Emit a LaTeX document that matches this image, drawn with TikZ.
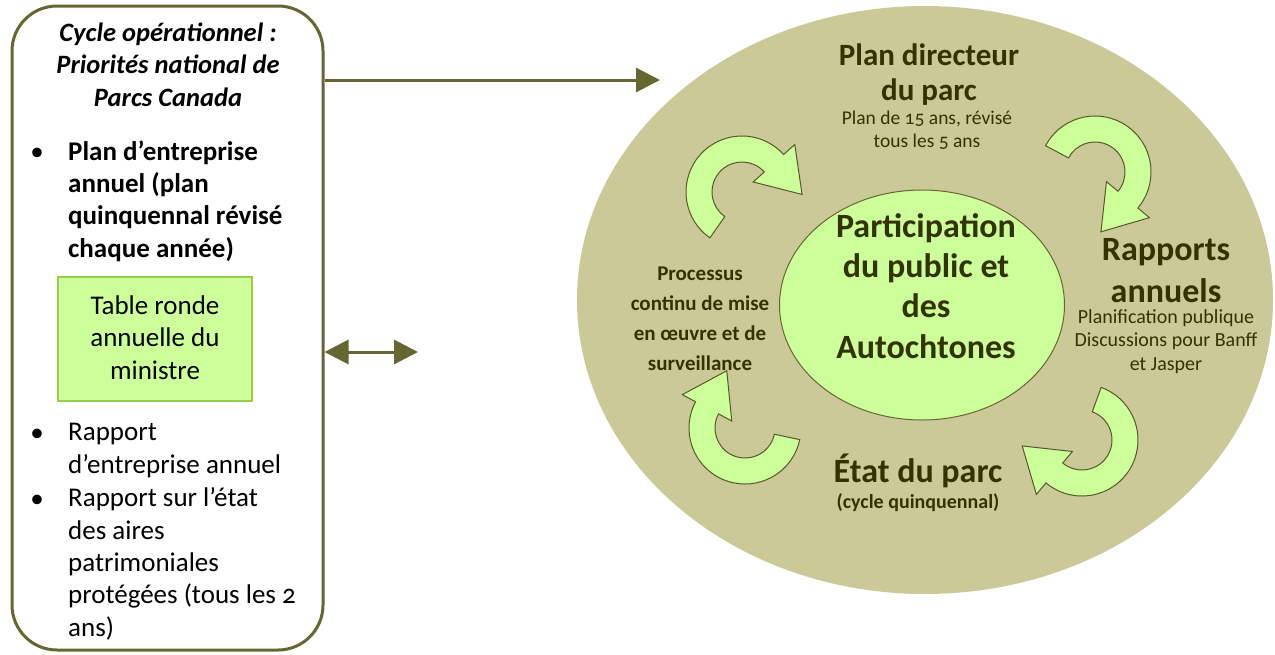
\documentclass[tikz,border=0pt]{standalone}
\usepackage{fontspec}
\setmainfont{Carlito}[Numbers=OldStyle]
\usetikzlibrary{arrows.meta,shapes.geometric}
\definecolor{olive}{HTML}{666633}
\definecolor{khaki}{HTML}{CCC999}
\definecolor{lgreen}{HTML}{CCFF99}
\definecolor{gborder}{HTML}{9ACD4A}
\definecolor{dtext}{HTML}{333300}
\tikzset{
  tb/.style={inner sep=0pt, anchor=base, align=center, text=dtext},
  lt/.style={inner sep=0pt, anchor=base west, align=left, text=black},
  carrow/.style={fill=lgreen, draw=olive!85!black, line width=1pt, line join=miter},
  conn/.style={draw=olive, line width=3pt, -{Triangle[length=24pt,width=24pt]}},
}
\newcommand{\circarrow}[4]{%
  \begin{scope}[shift={(#1,#2)}]
    \draw[carrow] (#3:56) arc[start angle=#3, end angle=#4, radius=56]
      -- (#4:71) -- ({43*cos(#4)-42*sin(#4)},{43*sin(#4)+42*cos(#4)})
      -- (#4:15) -- (#4:30) arc[start angle=#4, end angle=#3, radius=30] -- cycle;
  \end{scope}}
\begin{document}
\begin{tikzpicture}[x=1pt,y=-1pt]
\useasboundingbox (0,0) rectangle (1275,654);
% left box
\node[draw=olive, line width=3pt, rounded corners=45pt, minimum width=311pt, minimum height=644pt, inner sep=0pt] (leftbox) at (167.5,328) {};
\node[tb, text=black, font=\fontsize{26.5}{32.5}\selectfont\bfseries\itshape] (title) at (168,106) {Cycle opérationnel :\\Priorités national de\\Parcs Canada};
\node[inner sep=0pt, anchor=base, font=\fontsize{27}{32.5}\selectfont] (b1) at (37,160) {•};
\node[lt, font=\fontsize{27}{32.3}\selectfont\bfseries] (t1) at (68,257) {Plan d’entreprise\\annuel (plan\\quinquennal révisé\\chaque année)};
\node[draw=gborder, line width=2pt, fill=lgreen, minimum width=194pt, minimum height=124pt, inner sep=0pt] (green) at (155,339) {};
\node[tb, text=black, font=\fontsize{27}{32.5}\selectfont] (gt) at (155,379) {Table ronde\\annuelle du\\ministre};
\node[inner sep=0pt, anchor=base, font=\fontsize{27}{32.5}\selectfont] (b2) at (37,441) {•};
\node[lt, font=\fontsize{27}{32.3}\selectfont] (t2) at (68,473) {Rapport\\d’entreprise annuel};
\node[inner sep=0pt, anchor=base, font=\fontsize{27}{32.5}\selectfont] (b3) at (37,507) {•};
\node[lt, font=\fontsize{27}{32.3}\selectfont] (t3) at (68,636) {Rapport sur l’état\\des aires\\patrimoniales\\protégées (tous les 2\\ans)};
% ellipses
\node[ellipse, fill=khaki, minimum width=696pt, minimum height=588pt, inner sep=0pt] (bigell) at (925,300) {};
\node[ellipse, draw=olive, line width=1pt, fill=lgreen, minimum width=285pt, minimum height=230pt, inner sep=0pt] (inner) at (922,305) {};
% connectors
\coordinate (tip1) at (660,80);
\draw[conn] (leftbox.east |- tip1) -- (tip1);
\coordinate (tip2) at (418,352);
\draw[conn, {Triangle[length=24pt,width=24pt]}-{Triangle[length=24pt,width=24pt]}] (leftbox.east |- tip2) -- (tip2);
% curved arrows
\circarrow{742}{192}{125}{318}
\circarrow{1095}{172}{208}{400}
\circarrow{1082}{440}{290}{490}
\circarrow{745}{428}{12}{208}
% texts
\node[tb, font=\fontsize{31}{35}\selectfont\bfseries] (plan) at (929,100) {Plan directeur\\du parc};
\node[tb, font=\fontsize{19.5}{23}\selectfont] (plansub) at (927,147) {Plan de 15 ans, révisé\\tous les 5 ans};
\node[tb, font=\fontsize{34}{40.3}\selectfont\bfseries] (part) at (926,358) {Participation\\du public et\\des\\Autochtones};
\node[tb, font=\fontsize{34}{42}\selectfont\bfseries] (rapp) at (1166,302) {Rapports\\annuels};
\node[tb, font=\fontsize{20}{23.5}\selectfont] (rappsub) at (1166,370) {Planification publique\\Discussions pour Banff\\et Jasper};
\node[tb, font=\fontsize{21}{30}\selectfont\bfseries] (proc) at (700,370) {Processus\\continu de mise\\en œuvre et de\\surveillance};
\node[tb, font=\fontsize{34}{40}\selectfont\bfseries] (etat) at (918,482) {État du parc};
\node[tb, font=\fontsize{20}{24}\selectfont\bfseries] (etatsub) at (918,508) {(cycle quinquennal)};
\end{tikzpicture}
\end{document}
